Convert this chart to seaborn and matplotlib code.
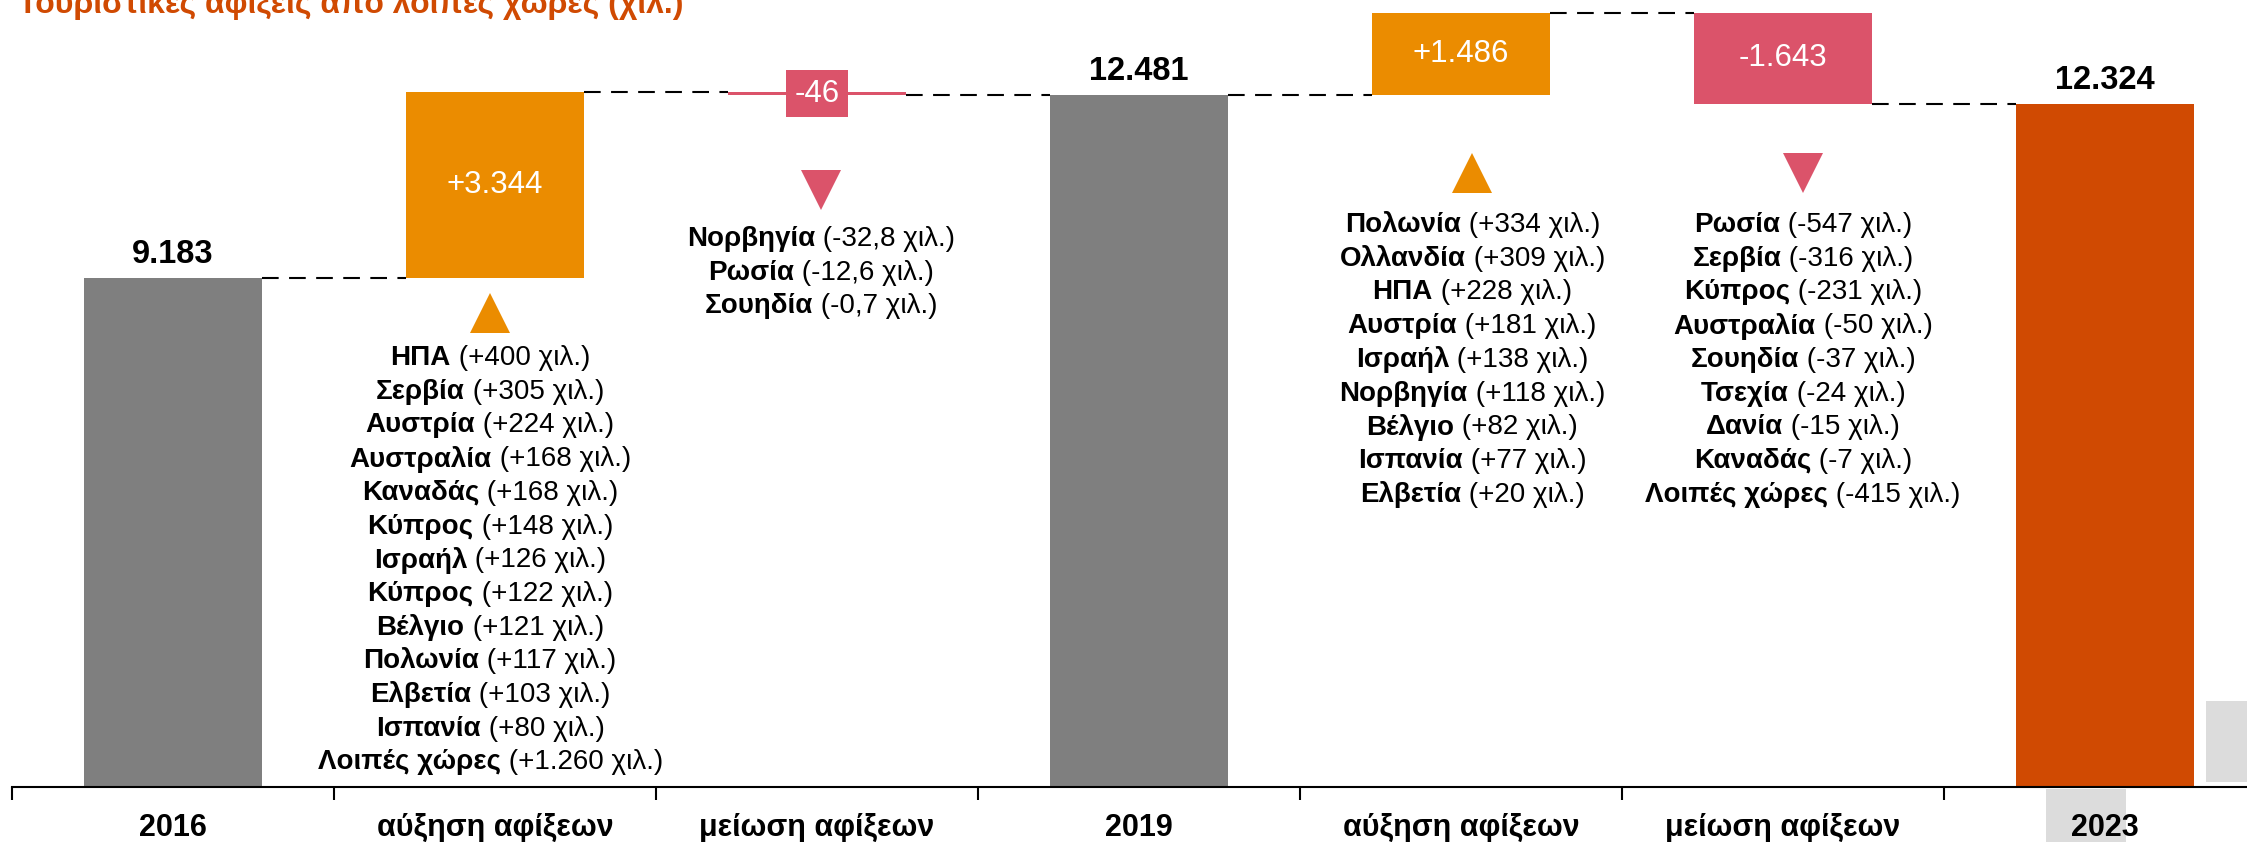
import numpy as np
import matplotlib
matplotlib.use("Agg")
import matplotlib.pyplot as plt
from matplotlib.patches import Rectangle
from matplotlib.transforms import offset_copy
import seaborn as sns

# --- data -------------------------------------------------------------
categories = ["2016", "αύξηση αφίξεων", "μείωση αφίξεων", "2019",
              "αύξηση αφίξεων", "μείωση αφίξεων", "2023"]
kinds = ["total", "delta", "delta", "total", "delta", "delta", "total"]
values = [9183, 3344, -46, 12481, 1486, -1643, 12324]

inc1_names = ["ΗΠΑ", "Σερβία", "Αυστρία", "Αυστραλία", "Καναδάς", "Κύπρος", "Ισραήλ",
              "Κύπρος", "Βέλγιο", "Πολωνία", "Ελβετία", "Ισπανία", "Λοιπές χώρες"]
inc1_vals = ["+400", "+305", "+224", "+168", "+168", "+148", "+126",
             "+122", "+121", "+117", "+103", "+80", "+1.260"]
dec1_names = ["Νορβηγία", "Ρωσία", "Σουηδία"]
dec1_vals = ["-32,8", "-12,6", "-0,7"]
inc2_names = ["Πολωνία", "Ολλανδία", "ΗΠΑ", "Αυστρία", "Ισραήλ", "Νορβηγία",
              "Βέλγιο", "Ισπανία", "Ελβετία"]
inc2_vals = ["+334", "+309", "+228", "+181", "+138", "+118", "+82", "+77", "+20"]
dec2_names = ["Ρωσία", "Σερβία", "Κύπρος", "Αυστραλία", "Σουηδία", "Τσεχία",
              "Δανία", "Καναδάς", "Λοιπές χώρες"]
dec2_vals = ["-547", "-316", "-231", "-50", "-37", "-24", "-15", "-7", "-415"]

title = "Τουριστικές αφίξεις από λοιπές χώρες (χιλ.)"

GRAY, ORANGE, PINK, DARK = "#7f7f7f", "#eb8c00", "#db536a", "#d04a02"

# --- style ------------------------------------------------------------
sns.set_theme(style="white")
plt.rcParams["font.family"] = ["Liberation Sans", "DejaVu Sans"]

W, H = 2247, 842
fig = plt.figure(figsize=(W / 100, H / 100), dpi=100)
fig.patch.set_facecolor("white")
ax = fig.add_axes([12 / W, 0, 1 - 12 / W, 1])
ax.set_facecolor("none")

# pixel layout of the axes
BASE_PX = 787
SCALE = (BASE_PX - 95) / 12481   # pixels per unit
CAT_PX = 322


def px_to_y(p):
    return (BASE_PX - p) / SCALE


# --- waterfall geometry ----------------------------------------------
bottoms, heights = [], []
running = 0
for k, v in zip(kinds, values):
    if k == "total":
        bottoms.append(0)
        heights.append(v)
        running = v
    else:
        bottoms.append(running)
        heights.append(v)
        running += v
colors = [GRAY, ORANGE, PINK, GRAY, ORANGE, PINK, DARK]

pos = np.arange(len(categories))
bar_w = 0.553
sns.barplot(x=pos, y=heights, bottom=np.array(bottoms, dtype=float),
            width=bar_w, color=GRAY, ax=ax, linewidth=0, saturation=1)
for p, c in zip(ax.patches, colors):
    p.set_facecolor(c)
    p.set_edgecolor(c)

# connectors
for i in range(len(pos) - 1):
    level = bottoms[i] + heights[i]
    ax.plot([pos[i] + bar_w / 2, pos[i + 1] - bar_w / 2], [level, level],
            color="black", lw=1.5, ls=(0, (8, 5)), zorder=3)

# value labels
for i, (k, v) in enumerate(zip(kinds, values)):
    lab = f"{abs(v):,}".replace(",", ".")
    if k == "total":
        ax.annotate(lab, (pos[i], v), xytext=(0, 17), textcoords="offset points",
                    ha="center", va="center", fontsize=23.5, fontweight="bold",
                    color="black")
    else:
        lab = ("+" if v > 0 else "-") + lab
        mid = bottoms[i] + v / 2
        kw = {}
        if abs(v) * SCALE < 40:
            kw["bbox"] = dict(boxstyle="square,pad=0.28", fc=PINK if v < 0 else ORANGE, ec="none")
        ax.text(pos[i], mid, lab, ha="center", va="center", fontsize=22.5,
                color="white", zorder=5, **kw)

# --- country lists ---------------------------------------------------
groups = [
    (1, -0.015, 313, 358, "^", ORANGE, inc1_names, inc1_vals),
    (2, 0.012, 190, 239, "v", PINK, dec1_names, dec1_vals),
    (4, 0.035, 173, 225, "^", ORANGE, inc2_names, inc2_vals),
    (5, 0.062, 173, 225, "v", PINK, dec2_names, dec2_vals),
]
LINE_PX = 33.7
pairs = []
for idx, dx, tri_px, first_px, mk, col, names, vals in groups:
    cx = pos[idx] + dx
    ax.plot([cx], [px_to_y(tri_px)], marker=mk, ms=29, color=col, ls="none",
            markeredgewidth=0)
    for j, (n, v) in enumerate(zip(names, vals)):
        y = px_to_y(first_px + j * LINE_PX)
        tb = ax.text(cx, y, n, ha="left", va="center", fontsize=20,
                     fontweight="bold", color="black")
        tr = ax.text(cx, y, f" ({v} χιλ.)", ha="left", va="center",
                     fontsize=20, color="black")
        pairs.append((tb, tr))

# --- axes ------------------------------------------------------------
ax.set_xlabel("")
ax.set_ylabel("")
ax.set_yticks([])
ax.set_xticks([])
ax.set_xticks(np.arange(-0.5, len(pos) + 0.5), minor=True)
ax.tick_params(axis="x", which="minor", direction="out", length=9, width=1.5,
               color="black", bottom=True)
ax.set_xlim(-0.5, -0.5 + (W - 12) / CAT_PX)
ax.set_ylim(px_to_y(H), px_to_y(0))
for s in ["left", "right", "top"]:
    ax.spines[s].set_visible(False)
ax.spines["bottom"].set_position(("data", 0))
ax.spines["bottom"].set_color("black")
ax.spines["bottom"].set_linewidth(1.5)

for i, c in enumerate(categories):
    ax.text(pos[i], px_to_y(828), c, ha="center", va="center", fontsize=22,
            fontweight="bold", color="black", clip_on=False)

# light grey boxes present in the reference
fig.patches.append(Rectangle((2046 / W, 0), 80 / W, (H - 789) / H,
                             transform=fig.transFigure, fc="#dcdcdc", ec="none", zorder=-1))
fig.patches.append(Rectangle((2206 / W, (H - 782) / H), 41 / W, 81 / H,
                             transform=fig.transFigure, fc="#dcdcdc", ec="none", zorder=-1))

fig.text(18 / W, 1 - 13 / H, title, ha="left", va="baseline", fontsize=23,
         fontweight="bold", color=DARK)

# centre the bold+regular list lines
fig.canvas.draw()
r = fig.canvas.get_renderer()
for tb, tr in pairs:
    wb = tb.get_window_extent(r).width
    wr = tr.get_window_extent(r).width
    tot = wb + wr
    tb.set_transform(offset_copy(ax.transData, fig=fig, x=-tot / 2, y=0, units="dots"))
    tr.set_transform(offset_copy(ax.transData, fig=fig, x=-tot / 2 + wb, y=0, units="dots"))

fig.savefig("out.png", dpi=100)
